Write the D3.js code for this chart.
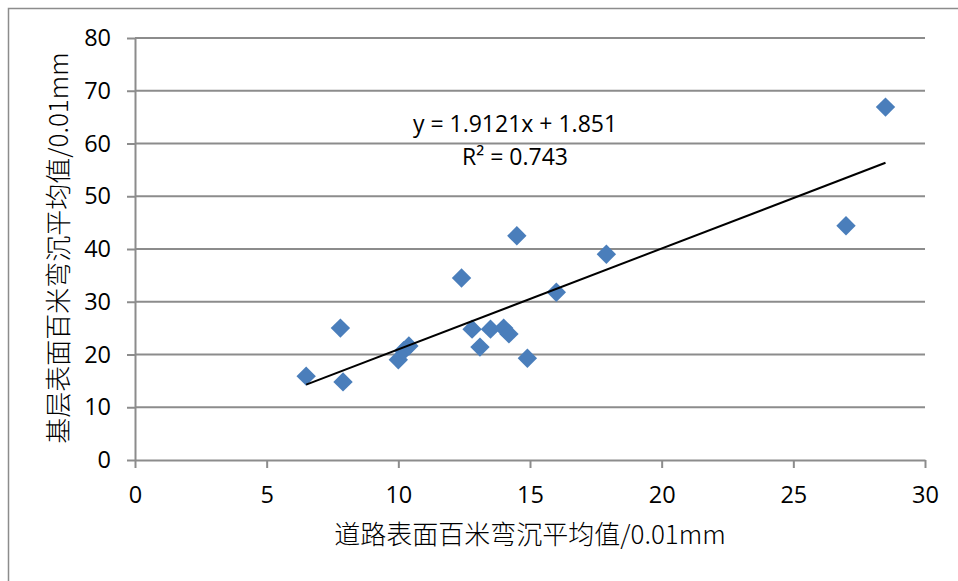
<!DOCTYPE html>
<html>
<head>
<meta charset="utf-8">
<script src="https://cdn.jsdelivr.net/npm/d3@7"></script>
<style>
  body { margin: 0; background: #fff; }
  .tick text { font-family: "Open Sans", sans-serif; font-size: 23.5px; fill: #000; }
</style>
</head>
<body>
<div id="chart"></div>
<script>
// data
var xValues = [6.5, 7.8, 7.9, 10.0, 10.2, 10.4, 12.4, 12.8, 13.1, 13.5, 14.0, 14.2, 14.5, 14.9, 16.0, 17.9, 27.0, 28.5];
var yValues = [15.9, 25.0, 14.8, 19.0, 20.7, 21.6, 34.5, 24.8, 21.4, 24.8, 25.0, 23.9, 42.5, 19.3, 31.8, 39.0, 44.4, 66.9];
var xTicks = [0, 5, 10, 15, 20, 25, 30];
var yTicks = [0, 10, 20, 30, 40, 50, 60, 70, 80];
var slope = 1.9121;
var intercept = 1.851;
var eqLabels = ["y = 1.9121x + 1.851", "R² = 0.743"];
var xTitle = "道路表面百米弯沉平均值/0.01mm";
var yTitle = "基层表面百米弯沉平均值/0.01mm";

var svgWidth = 958;
var svgHeight = 581;

var margin = { top: 38, right: 33, bottom: 121, left: 135 };
var width = svgWidth - margin.left - margin.right;
var height = svgHeight - margin.top - margin.bottom;

var points = xValues.map((x, i) => ({ x: x, y: yValues[i] }));

var svg = d3.select("#chart")
  .append("svg")
  .attr("width", svgWidth)
  .attr("height", svgHeight);

// outer chart border (only left and top are in view)
svg.append("rect")
  .attr("x", 8.5)
  .attr("y", 8.5)
  .attr("width", 1000)
  .attr("height", 1000)
  .attr("fill", "none")
  .attr("stroke", "#8c8c8c")
  .attr("stroke-width", 1.5);

var chartGroup = svg.append("g")
  .attr("transform", `translate(${margin.left}, ${margin.top})`);

var xScale = d3.scaleLinear().domain([0, 30]).range([0, width]);
var yScale = d3.scaleLinear().domain([0, 80]).range([height, 0]);

// gridlines
chartGroup.append("g")
  .selectAll("line")
  .data(yTicks.slice(1))
  .enter()
  .append("line")
  .attr("x1", 0)
  .attr("x2", width)
  .attr("y1", d => yScale(d))
  .attr("y2", d => yScale(d))
  .attr("stroke", "#8c8c8c")
  .attr("stroke-width", 2);

// axes
var xAxis = chartGroup.append("g")
  .attr("transform", `translate(0, ${height})`)
  .call(d3.axisBottom(xScale).tickValues(xTicks).tickSize(8).tickPadding(14).tickSizeOuter(0));

var yAxis = chartGroup.append("g")
  .call(d3.axisLeft(yScale).tickValues(yTicks).tickSize(8).tickPadding(16).tickSizeOuter(0));

[xAxis, yAxis].forEach(ax => {
  ax.select(".domain").attr("stroke", "#8c8c8c").attr("stroke-width", 2);
  ax.selectAll(".tick line").attr("stroke", "#8c8c8c").attr("stroke-width", 2);
});
xAxis.selectAll(".tick text").attr("dy", "0.9em");

// markers
chartGroup.append("g")
  .selectAll("path")
  .data(points)
  .enter()
  .append("path")
  .attr("d", d3.symbol().type(d3.symbolSquare).size(188))
  .attr("transform", d => `translate(${xScale(d.x)}, ${yScale(d.y)}) rotate(45)`)
  .attr("fill", "#4a7ebb");

// linear trendline over the data range
var xMin = d3.min(xValues);
var xMax = d3.max(xValues);
chartGroup.append("line")
  .attr("x1", xScale(xMin))
  .attr("y1", yScale(slope * xMin + intercept))
  .attr("x2", xScale(xMax))
  .attr("y2", yScale(slope * xMax + intercept))
  .attr("stroke", "#000")
  .attr("stroke-width", 2);

// trendline label
chartGroup.append("g")
  .selectAll("text")
  .data(eqLabels)
  .enter()
  .append("text")
  .attr("x", 380)
  .attr("y", (d, i) => 94 + i * 33)
  .attr("text-anchor", "middle")
  .attr("font-family", "Open Sans, sans-serif")
  .attr("font-size", 23)
  .text(d => d);

// axis titles
svg.append("text")
  .attr("x", margin.left + width / 2)
  .attr("y", 544)
  .attr("text-anchor", "middle")
  .attr("font-family", "Noto Sans CJK SC, sans-serif")
  .attr("font-weight", 300)
  .attr("font-size", 26)
  .attr("fill", "#000")
  .text(xTitle);

svg.append("text")
  .attr("transform", "translate(68, 248) rotate(-90)")
  .attr("text-anchor", "middle")
  .attr("font-family", "Noto Sans CJK SC, sans-serif")
  .attr("font-weight", 300)
  .attr("font-size", 26)
  .attr("fill", "#000")
  .text(yTitle);
</script>
</body>
</html>
